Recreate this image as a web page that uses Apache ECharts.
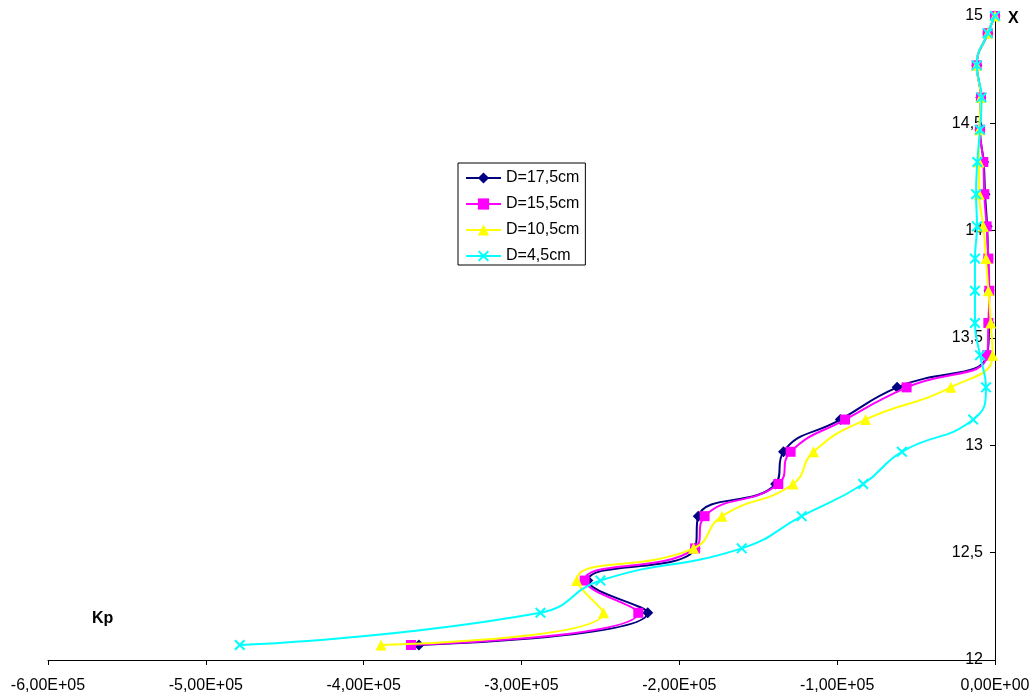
<!DOCTYPE html>
<html>
<head>
<meta charset="utf-8">
<script src="https://cdn.jsdelivr.net/npm/echarts@6/dist/echarts.min.js"></script>
<style>
  html, body { margin: 0; padding: 0; background: #fff; }
  #chart { width: 1034px; height: 697px; }
</style>
</head>
<body>
<div id="chart"></div>
<script>
// Depth positions (X) shared by every series
const depth = [15, 14.92, 14.77, 14.62, 14.47, 14.32, 14.17, 14.02, 13.87, 13.72, 13.57,
               13.42, 13.27, 13.12, 12.97, 12.82, 12.67, 12.52, 12.37, 12.22, 12.07];

// Kp values for each diameter
const kpD175 = [0, -4500, -11500, -9000, -9500, -7200, -6300, -5000, -4400, -3800, -3800,
                -5000, -62000, -98000, -134000, -139000, -188000, -190000, -258000, -220000, -365000];
const kpD155 = [0, -4600, -11600, -8900, -9500, -7400, -6800, -5300, -4200, -3600, -4200,
                -4900, -56000, -95000, -129500, -137300, -184000, -190000, -260000, -226000, -370000];
const kpD105 = [0, -4600, -11600, -9000, -10000, -10100, -10000, -7400, -5700, -4200, -2700,
                -1500, -28000, -82000, -115000, -128000, -173000, -191000, -265000, -248000, -389000];
const kpD45  = [0, -4600, -11600, -8500, -9500, -11200, -12000, -11400, -12700, -12700, -12700,
                -9500, -5700, -13800, -59000, -83500, -122500, -160500, -250000, -288000, -478500];

const seriesNames = ['D=17,5cm', 'D=15,5cm', 'D=10,5cm', 'D=4,5cm'];
const seriesValues = [kpD175, kpD155, kpD105, kpD45];
const seriesColors = ['#000080', '#FF00FF', '#FFFF00', '#00FFFF'];
const crossPath = 'path://M0,1.3L1.3,0L5,3.7L8.7,0L10,1.3L6.3,5L10,8.7L8.7,10L5,6.3L1.3,10L0,8.7L3.7,5Z';
const seriesSymbols = ['diamond', 'rect', 'triangle', crossPath];
const seriesSymbolSizes = [11, 10, 11, 11];

const font = 'Liberation Sans, Arial, sans-serif';

function fmtKp(v) {
  if (v === 0) return '0,00E+00';
  return (v / 1e5).toFixed(2).replace('.', ',') + 'E+05';
}

const chart = echarts.init(document.getElementById('chart'), null, { renderer: 'canvas' });

chart.setOption({
  backgroundColor: '#fff',
  animation: false,
  grid: { left: 48, right: 39, top: 16, bottom: 37 },
  legend: {
    orient: 'vertical',
    left: 458,
    top: 163,
    backgroundColor: '#fff',
    borderColor: '#000',
    borderWidth: 1,
    borderRadius: 0,
    padding: [7, 6, 1, 7],
    itemWidth: 35,
    itemHeight: 14,
    itemGap: 10,
    itemTextGap: 4,
    textStyle: { fontFamily: font, fontSize: 16, color: '#000' },
    data: seriesNames
  },
  xAxis: {
    type: 'value',
    min: -600000,
    max: 0,
    interval: 100000,
    splitLine: { show: false },
    axisLine: { onZero: false, lineStyle: { color: '#000', width: 1 } },
    axisTick: { show: true, length: 5, lineStyle: { color: '#000' } },
    axisLabel: {
      margin: 18,
      color: '#000',
      fontFamily: font,
      fontSize: 16,
      formatter: fmtKp
    }
  },
  yAxis: {
    type: 'value',
    position: 'right',
    min: 12,
    max: 15,
    interval: 0.5,
    splitLine: { show: false },
    axisLine: { show: true, onZero: false, lineStyle: { color: '#000', width: 1 } },
    axisTick: { show: true, inside: true, length: 5, lineStyle: { color: '#000' } },
    axisLabel: {
      inside: true,
      margin: 12,
      color: '#000',
      fontFamily: font,
      fontSize: 16,
      formatter: v => String(v).replace('.', ',')
    }
  },
  graphic: [
    { type: 'text', left: 1008, top: 11,
      style: { text: 'X', font: 'bold 16px ' + font, fill: '#000' } },
    { type: 'text', left: 92, top: 611,
      style: { text: 'Kp', font: 'bold 16px ' + font, fill: '#000' } }
  ],
  series: seriesNames.map((name, i) => ({
    name: name,
    type: 'line',
    smooth: 0.5,
    clip: false,
    data: seriesValues[i].map((v, k) => [v, depth[k]]),
    symbol: seriesSymbols[i],
    symbolSize: seriesSymbolSizes[i],
    showAllSymbol: true,
    color: seriesColors[i],
    lineStyle: { color: seriesColors[i], width: 2 },
    itemStyle: { color: seriesColors[i], borderWidth: 0 },
    emphasis: { disabled: true },
    z: 2 + i
  }))
});
</script>
</body>
</html>
